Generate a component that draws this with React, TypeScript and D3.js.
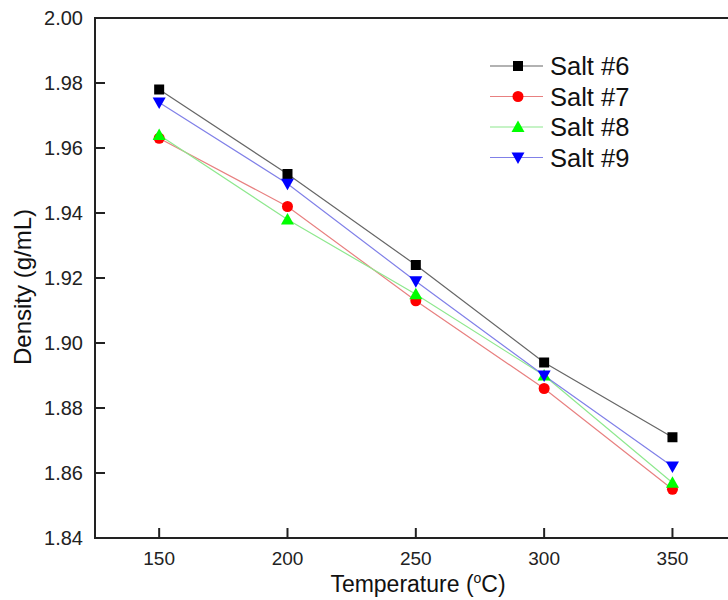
import React from "react";
import * as d3 from "d3";

const temperatures = [150, 200, 250, 300, 350];
const salt6 = [1.978, 1.952, 1.924, 1.894, 1.871];
const salt7 = [1.963, 1.942, 1.913, 1.886, 1.855];
const salt8 = [1.964, 1.938, 1.915, 1.890, 1.857];
const salt9 = [1.974, 1.949, 1.919, 1.890, 1.862];
const seriesNames = ["Salt #6", "Salt #7", "Salt #8", "Salt #9"];
const xTicks = [150, 200, 250, 300, 350];
const yTicks = [1.84, 1.86, 1.88, 1.9, 1.92, 1.94, 1.96, 1.98, 2.0];

const W = 728;
const H = 600;
const left = 95;
const top = 18;
const bottom = 538;
const xPerUnit = (673.3 - 160) / 200;
const right = left + (375 - 125) * xPerUnit;

const x = d3.scaleLinear().domain([125, 375]).range([left, right]);
const y = d3.scaleLinear().domain([1.84, 2.0]).range([bottom, top]);

const styles = [
  { line: "#666666", fill: "#000000", shape: "square" },
  { line: "#e88080", fill: "#ff0000", shape: "circle" },
  { line: "#8ee88e", fill: "#00ff00", shape: "up" },
  { line: "#8080e8", fill: "#0000ff", shape: "down" },
];

function Marker({ cx, cy, shape, fill }: { cx: number; cy: number; shape: string; fill: string }) {
  if (shape === "square") return <rect x={cx - 5} y={cy - 5} width={10} height={10} fill={fill} />;
  if (shape === "circle") return <circle cx={cx} cy={cy} r={5.5} fill={fill} />;
  if (shape === "up")
    return <path d={`M${cx},${cy - 6.5} L${cx + 6.5},${cy + 5} L${cx - 6.5},${cy + 5} Z`} fill={fill} />;
  return <path d={`M${cx},${cy + 6.5} L${cx + 6.5},${cy - 5} L${cx - 6.5},${cy - 5} Z`} fill={fill} />;
}

export default function App() {
  const data = [salt6, salt7, salt8, salt9];
  const line = d3
    .line<number>()
    .x((_, i) => x(temperatures[i]))
    .y((d) => y(d));
  const font = "Arial, 'Liberation Sans', sans-serif";
  const legendX = 490;
  const legendY0 = 66;
  const legendDY = 30.5;
  return (
    <svg
      width={W}
      height={H}
      style={{ position: "absolute", left: 0, top: 0, background: "#fff" }}
      fontFamily={font}
    >
      {data.map((s, k) => (
        <path key={"l" + k} d={line(s) || ""} fill="none" stroke={styles[k].line} strokeWidth={1.2} />
      ))}
      {data.map((s, k) =>
        s.map((v, i) => (
          <Marker key={`m${k}-${i}`} cx={x(temperatures[i])} cy={y(v)} shape={styles[k].shape} fill={styles[k].fill} />
        ))
      )}
      <line x1={left} x2={left} y1={top - 1} y2={bottom + 1} stroke="#222" strokeWidth={2} />
      <line x1={left - 1} x2={right} y1={bottom} y2={bottom} stroke="#222" strokeWidth={2} />
      <line x1={left - 1} x2={right} y1={top} y2={top} stroke="#222" strokeWidth={2} />
      <line x1={right} x2={right} y1={top} y2={bottom} stroke="#222" strokeWidth={2} />
      {yTicks.map((t) => (
        <g key={"y" + t}>
          {t > 1.84 && t < 2.0 && (
            <line x1={left} x2={left + 10} y1={y(t)} y2={y(t)} stroke="#222" strokeWidth={2} />
          )}
          <text x={83} y={y(t)} dy="0.36em" textAnchor="end" fontSize={20} fill="#222">
            {t.toFixed(2)}
          </text>
        </g>
      ))}
      {xTicks.map((t) => (
        <g key={"x" + t}>
          <line x1={x(t)} x2={x(t)} y1={bottom} y2={bottom - 10} stroke="#222" strokeWidth={2} />
          <text x={x(t)} y={565} textAnchor="middle" fontSize={19} fill="#222">
            {t}
          </text>
        </g>
      ))}
      <text x={418} y={592} textAnchor="middle" fontSize={23} fill="#111">
        Temperature (
        <tspan dy={-9} fontSize={14}>o</tspan>
        <tspan dy={9}>C)</tspan>
      </text>
      <text transform={`translate(31,287) rotate(-90)`} textAnchor="middle" fontSize={24} fill="#111">
        Density (g/mL)
      </text>
      {seriesNames.map((n, k) => {
        const ly = legendY0 + k * legendDY;
        return (
          <g key={"lg" + k}>
            <line x1={legendX} x2={legendX + 53} y1={ly} y2={ly} stroke={styles[k].line} strokeWidth={1.2} />
            <Marker cx={legendX + 28} cy={ly} shape={styles[k].shape} fill={styles[k].fill} />
            <text x={550} y={ly} dy="0.36em" fontSize={25.5} fill="#111">
              {n}
            </text>
          </g>
        );
      })}
    </svg>
  );
}
